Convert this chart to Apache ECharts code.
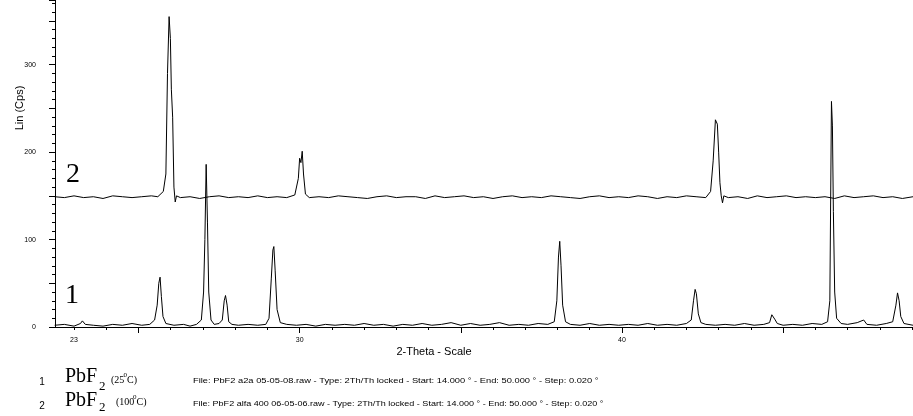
<!DOCTYPE html>
<html>
<head>
<meta charset="utf-8">
<script src="https://cdn.jsdelivr.net/npm/echarts@6/dist/echarts.min.js"></script>
<style>
html,body{margin:0;padding:0;background:#fff;}
#chart{width:913px;height:416px;}
</style>
</head>
<body>
<div id="chart"></div>
<script>
// 2-Theta positions and intensities (Cps)
var s1Theta = [22.4,22.7,23.0,23.2,23.26,23.35,23.6,23.9,24.2,24.5,24.8,25.1,25.35,25.5,25.58,25.63,25.67,25.71,25.76,25.85,26.1,26.4,26.6,26.8,26.95,27.02,27.06,27.1,27.14,27.18,27.25,27.35,27.5,27.6,27.66,27.7,27.75,27.8,27.9,28.1,28.4,28.7,28.95,29.05,29.12,29.17,29.2,29.24,29.3,29.4,29.6,29.9,30.2,30.5,30.8,31.1,31.4,31.7,32.0,32.3,32.6,32.9,33.2,33.5,33.8,34.1,34.4,34.7,35.0,35.3,35.6,35.9,36.2,36.5,36.8,37.1,37.4,37.7,37.9,37.98,38.03,38.07,38.11,38.16,38.25,38.4,38.7,39.0,39.3,39.6,39.9,40.2,40.5,40.8,41.1,41.4,41.7,42.0,42.15,42.22,42.27,42.31,42.37,42.45,42.6,42.9,43.2,43.5,43.8,44.1,44.4,44.58,44.65,44.69,44.74,44.82,45.0,45.3,45.6,45.9,46.2,46.38,46.45,46.5,46.53,46.56,46.6,46.66,46.72,46.8,47.0,47.3,47.5,47.6,47.9,48.2,48.4,48.5,48.55,48.6,48.65,48.75,49.03];
var s1Counts = [2,3,1,4,7,3,2,1,3,2,4,2,3,8,25,50,57,35,12,4,2,3,1,3,8,40,100,186,120,40,8,3,4,8,30,36,25,6,3,2,3,2,3,10,55,88,92,65,20,5,3,2,3,1,3,2,3,2,4,2,3,1,3,2,4,2,3,5,2,4,2,3,5,2,3,2,4,3,6,30,80,98,70,25,6,3,2,4,2,3,2,3,2,4,2,3,2,4,8,30,43,38,15,5,3,2,3,2,4,2,3,5,14,16,9,4,2,3,2,4,3,6,30,258,230,132,40,10,8,4,3,5,8,3,2,4,6,25,39,30,12,4,2];

var s2Theta = [22.4,22.7,23.0,23.3,23.6,23.9,24.2,24.5,24.8,25.1,25.4,25.6,25.77,25.85,25.9,25.95,25.99,26.02,26.06,26.1,26.14,26.18,26.3,26.6,26.9,27.2,27.5,27.8,28.1,28.4,28.7,29.0,29.3,29.6,29.85,29.96,30.0,30.04,30.08,30.12,30.18,30.3,30.6,30.9,31.2,31.5,31.8,32.1,32.4,32.7,33.0,33.3,33.6,33.9,34.2,34.5,34.8,35.1,35.4,35.7,36.0,36.3,36.6,36.9,37.2,37.5,37.8,38.1,38.4,38.7,39.0,39.3,39.6,39.9,40.2,40.5,40.8,41.1,41.4,41.7,42.0,42.3,42.6,42.75,42.83,42.9,42.96,43.0,43.04,43.08,43.12,43.16,43.3,43.6,43.9,44.2,44.5,44.8,45.1,45.4,45.7,46.0,46.3,46.6,46.9,47.2,47.5,47.8,48.1,48.4,48.7,49.03];
var s2Counts = [149,148,150,148,149,147,150,149,148,149,150,149,155,175,290,355,330,272,240,160,143,150,148,149,147,149,150,148,149,148,150,148,149,148,151,170,193,188,201,175,152,148,149,148,150,149,148,147,149,150,148,149,149,147,150,148,149,150,148,149,147,149,150,148,149,148,150,149,148,147,149,150,148,149,148,150,149,147,149,148,150,149,148,155,190,237,232,200,165,150,142,150,148,149,147,150,148,149,150,148,149,148,149,147,150,148,149,150,148,149,147,149];

var xLabelValues = [23, 30, 40];
var xMinorTicks = [23,24,25,26,27,28,29,30,31,32,33,34,35,36,37,38,39,40,41,42,43,44,45,46,47,48,49];
var xMajorTicks = [25, 30, 35, 40, 45];
var yLabelStep = 100;

var fileInfo1 = 'File: PbF2 a2a 05-05-08.raw - Type: 2Th/Th locked - Start: 14.000 ° - End: 50.000 ° - Step: 0.020 °';
var fileInfo2 = 'File: PbF2 alfa 400 06-05-06.raw - Type: 2Th/Th locked - Start: 14.000 ° - End: 50.000 ° - Step: 0.020 °';

function pairs(xs, ys) { return xs.map(function (x, i) { return [x, ys[i]]; }); }

var chart = echarts.init(document.getElementById('chart'), null, {renderer: 'canvas'});
var sans = 'Liberation Sans';
var serif = 'Liberation Serif';
function txt(x, y, text, font, align, va, extra) {
  var o = {type: 'text', x: x, y: y,
    style: {text: text, font: font, fill: '#000', align: align || 'left', verticalAlign: va || 'bottom'}};
  if (extra) { for (var k in extra) o[k] = extra[k]; }
  return o;
}
chart.setOption({
  animation: false,
  backgroundColor: '#fff',
  grid: {left: 55, right: 0, top: 0, bottom: 89, containLabel: false},
  xAxis: [{
    type: 'value', min: 22.41, max: 49.03,
    axisLine: {show: true, lineStyle: {color: '#000', width: 1}},
    axisTick: {show: true, customValues: xMinorTicks, length: 3, lineStyle: {color: '#000'}},
    axisLabel: {show: true, customValues: xLabelValues, fontSize: 7, color: '#000', fontFamily: sans, margin: 10},
    splitLine: {show: false}
  }, {
    type: 'value', min: 22.41, max: 49.03, position: 'bottom',
    axisLine: {show: false},
    axisTick: {show: true, customValues: xMajorTicks, length: 6, lineStyle: {color: '#000'}},
    axisLabel: {show: false},
    splitLine: {show: false}
  }],
  yAxis: {
    type: 'value', min: 0, max: 374, interval: 50,
    axisLine: {show: true, lineStyle: {color: '#000', width: 1}},
    axisTick: {show: true, length: 6, lineStyle: {color: '#000'}},
    minorTick: {show: true, splitNumber: 5, length: 3, lineStyle: {color: '#000'}},
    axisLabel: {fontSize: 7, color: '#000', fontFamily: sans, margin: 19,
      formatter: function (v) { return v % yLabelStep === 0 ? String(v) : ''; }},
    splitLine: {show: false}
  },
  series: [{
    type: 'line', data: pairs(s1Theta, s1Counts), showSymbol: false, symbol: 'none',
    lineStyle: {color: '#000', width: 1}, z: 3
  }, {
    type: 'line', data: pairs(s2Theta, s2Counts), showSymbol: false, symbol: 'none',
    lineStyle: {color: '#000', width: 1}, z: 3
  }],
  graphic: [
    txt(20, 108, 'Lin (Cps)', '11px ' + sans, 'center', 'middle', {rotation: Math.PI / 2}),
    txt(434, 352, '2-Theta - Scale', '11px ' + sans, 'center', 'middle'),
    txt(73, 175, '2', '28px ' + serif, 'center', 'middle'),
    txt(72, 296, '1', '28px ' + serif, 'center', 'middle'),
    // legend row 1
    txt(42, 382, '1', '10px ' + sans, 'center', 'middle'),
    txt(65, 387, 'PbF', '20px ' + serif),
    txt(99, 393, '2', '13px ' + serif),
    txt(111, 385, '(25', '10px ' + serif),
    txt(123.5, 379, '0', '7px ' + serif),
    txt(127, 385, 'C)', '10px ' + serif),
    txt(193, 381, fileInfo1, '7px ' + sans, 'left', 'middle', {scaleX: 1.33}),
    // legend row 2
    txt(42, 406, '2', '10px ' + sans, 'center', 'middle'),
    txt(65, 411, 'PbF', '20px ' + serif),
    txt(99, 414, '2', '13px ' + serif),
    txt(116, 407, '(100', '10px ' + serif),
    txt(133, 401, '0', '7px ' + serif),
    txt(136.5, 407, 'C)', '10px ' + serif),
    txt(193, 404, fileInfo2, '7px ' + sans, 'left', 'middle', {scaleX: 1.29})
  ]
});
</script>
</body>
</html>
